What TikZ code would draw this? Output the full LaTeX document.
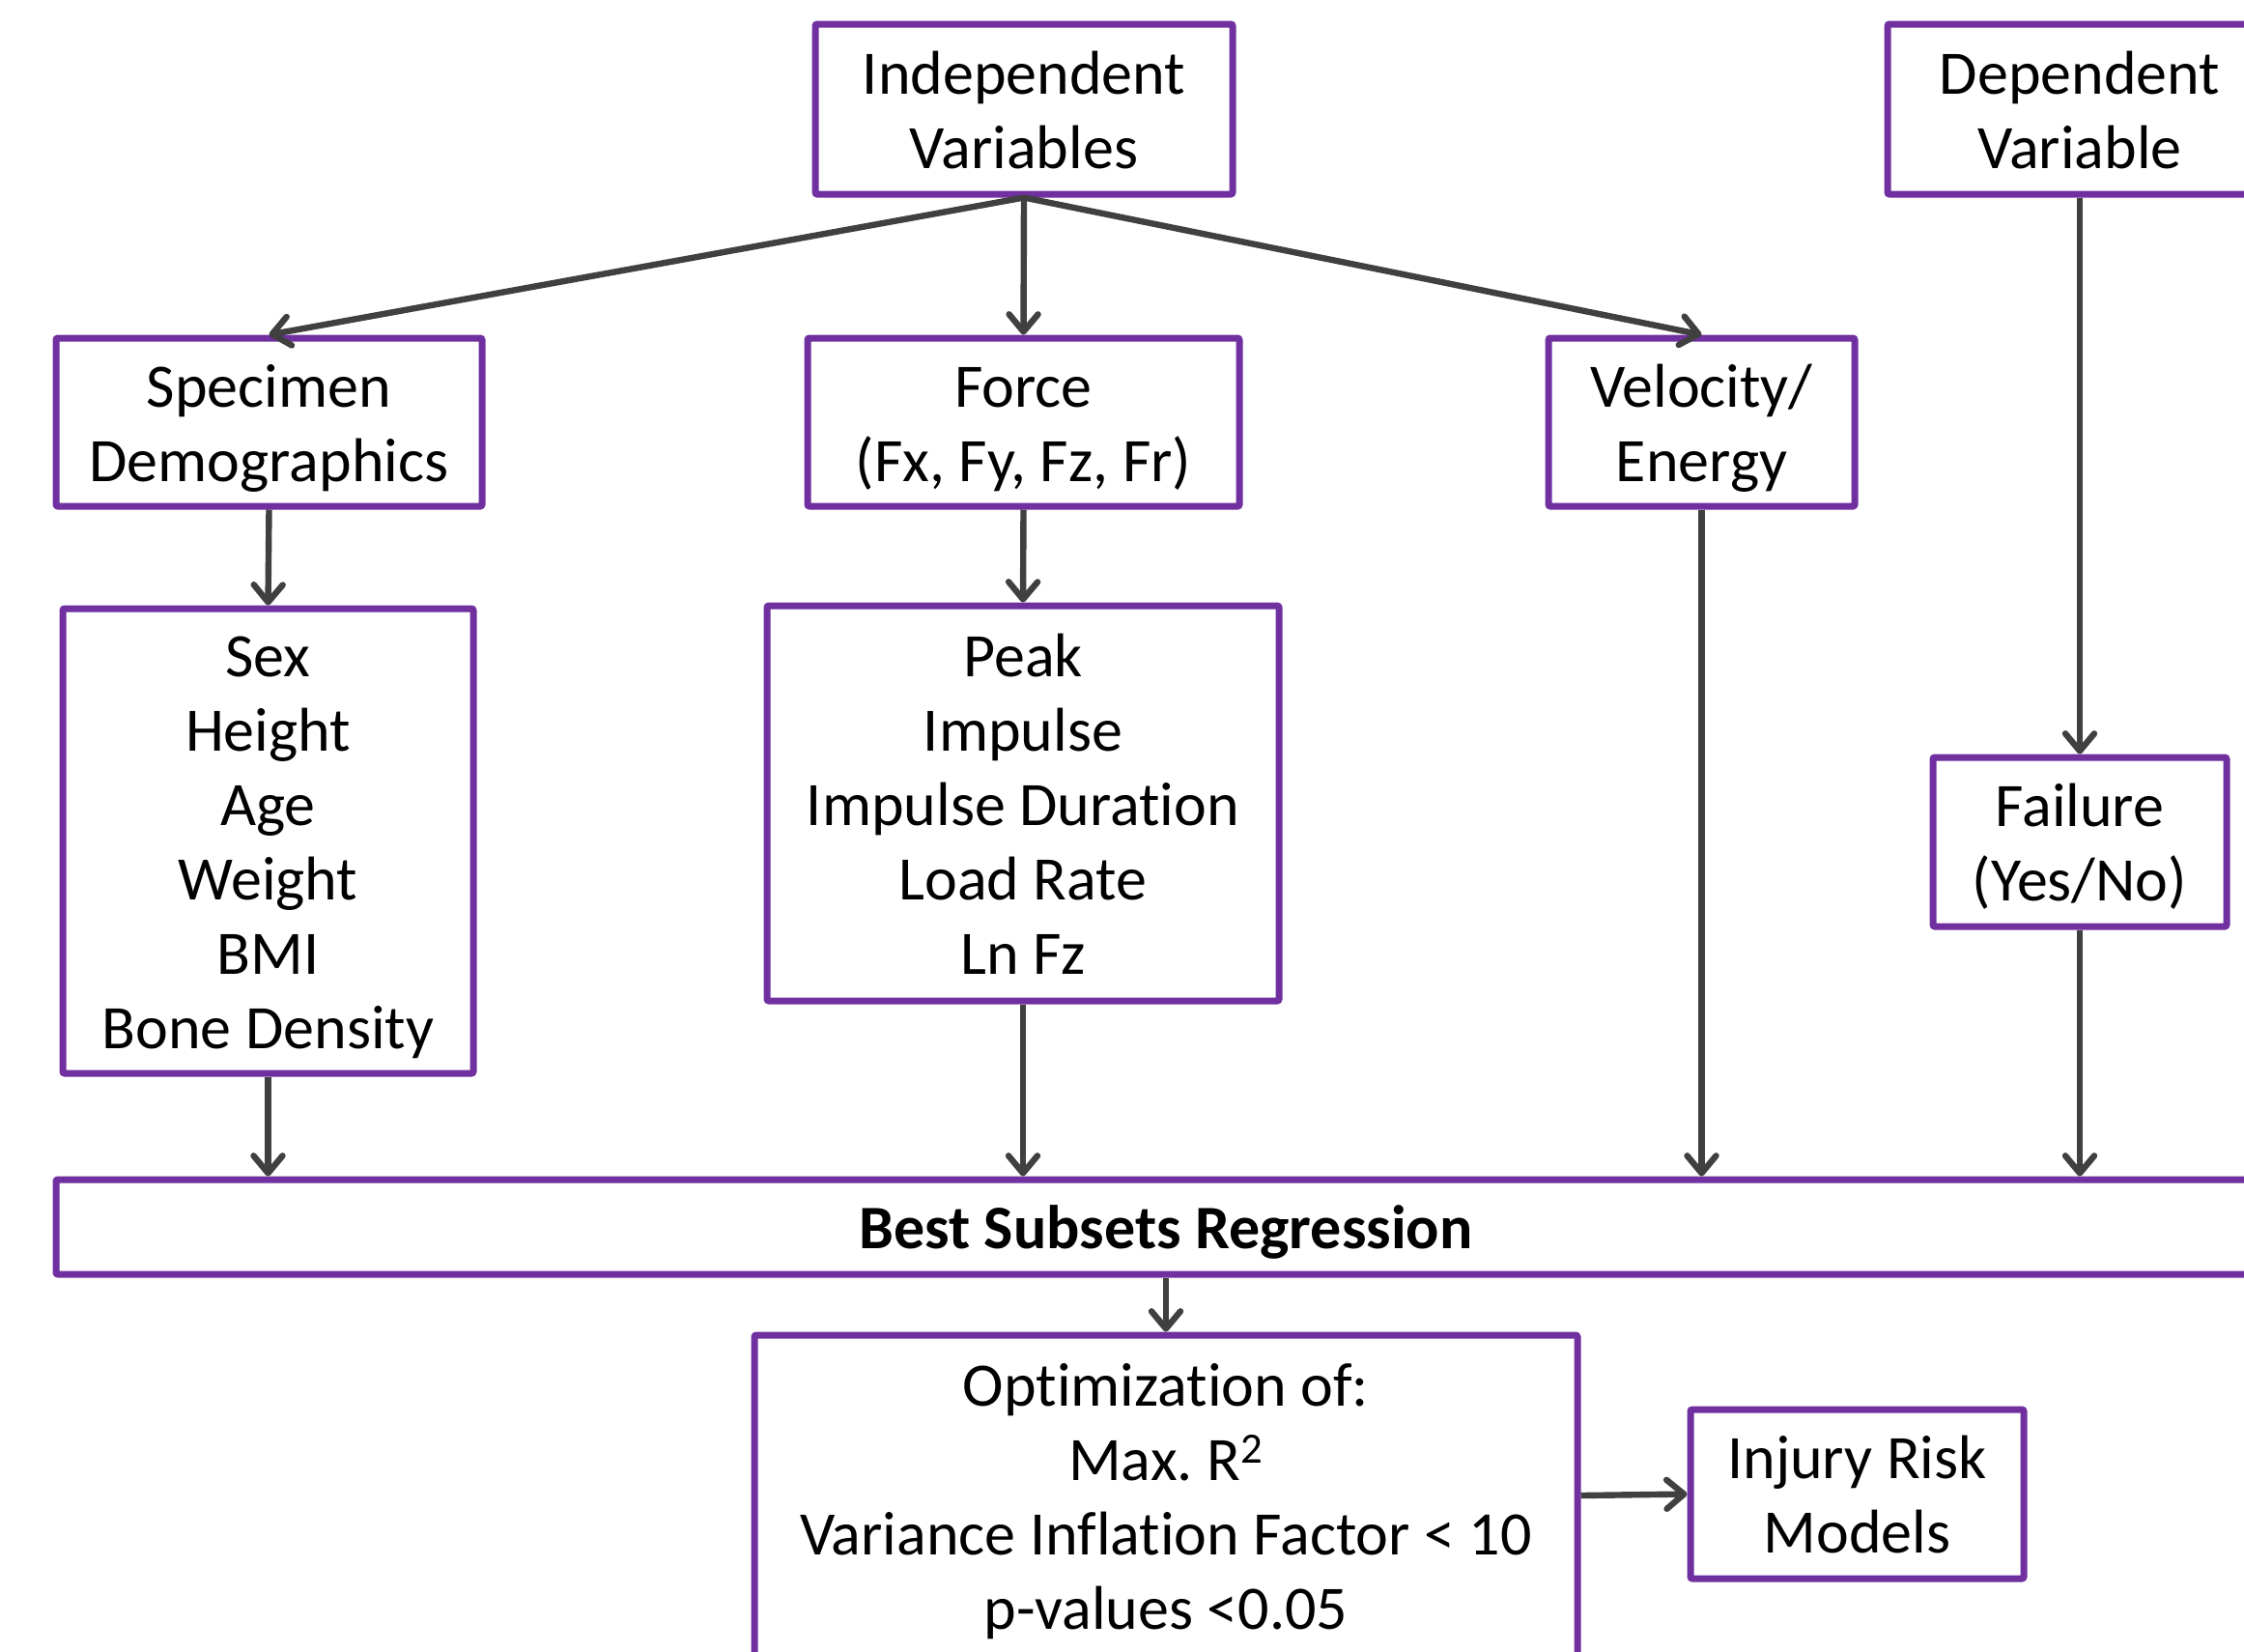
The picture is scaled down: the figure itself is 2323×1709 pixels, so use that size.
\documentclass[tikz,border=0pt]{standalone}
\usepackage{fontspec}
\setmainfont{Carlito}[Ligatures=NoCommon]
\usetikzlibrary{arrows.meta}
\definecolor{boxpurple}{HTML}{7030A0}
\definecolor{arrowgray}{HTML}{404040}
\newcommand\bxtext[1]{\raisebox{-3.6pt}[\height][\depth]{\begin{tabular}{@{}c@{}}#1\end{tabular}}}
\frenchspacing
\begin{document}
\begin{tikzpicture}[x=0.5pt,y=-0.5pt,
  box/.style={draw=boxpurple,line width=3.5pt,rounded corners=1pt,fill=white,inner sep=0pt,
    font=\fontsize{32}{38.5}\selectfont},
  conn/.style={draw=arrowgray,line width=3.2pt,-{Straight Barb[length=9pt,width=15pt,line cap=round,line join=round]}}]
\useasboundingbox (0,0) rectangle (2323,1709);
\clip (0,0) rectangle (2323,1709);
\node[box,minimum width=216pt,minimum height=88pt] (ind) at (1060,113) {\bxtext{Independent\\Variables}};
\node[box,minimum width=199pt,minimum height=88pt] (dep) at (2153,113) {\bxtext{Dependent\\Variable}};
\node[box,minimum width=220.5pt,minimum height=87pt] (spec) at (278.5,437) {\bxtext{Specimen\\Demographics}};
\node[box,minimum width=223.5pt,minimum height=87pt] (force) at (1059.5,437) {\bxtext{Force\\(Fx, Fy, Fz, Fr)}};
\node[box,minimum width=158.5pt,minimum height=87pt] (vel) at (1761.5,437) {\bxtext{Velocity/\\Energy}};
\node[box,minimum width=212.5pt,minimum height=240.5pt] (sex) at (277.5,870.5) {\bxtext{Sex\\Height\\Age\\Weight\\BMI\\Bone Density}};
\node[box,minimum width=265pt,minimum height=204.5pt] (peak) at (1059,831.5) {\bxtext{Peak\\Impulse\\Impulse Duration\\Load Rate\\Ln Fz}};
\node[box,minimum width=152pt,minimum height=87.5pt] (fail) at (2153,871.5) {\bxtext{Failure\\(Yes/No)}};
\node[box,minimum width=1149pt,minimum height=49pt,font=\fontsize{32}{38.5}\selectfont\bfseries] (best) at (1207,1270) {\bxtext{Best Subsets Regression}};
\node[box,minimum width=426pt,minimum height=166pt] (opt) at (1207,1548) {\bxtext{Optimization of:\\Max. R\textsuperscript{2}\\Variance Inflation Factor < 10\\p-values <0.05}};
\node[box,minimum width=172.5pt,minimum height=87.5pt] (inj) at (1922.5,1546.5) {\bxtext{Injury Risk\\Models}};
\draw[conn] (ind.south) -- (spec.north);
\draw[conn] (ind.south) -- (force.north);
\draw[conn] (ind.south) -- (vel.north);
\draw[conn] (dep.south) -- (fail.north);
\draw[conn] (spec.south) -- (sex.north);
\draw[conn] (force.south) -- (peak.north);
\draw[conn] (sex.south) -- (sex.south |- best.north);
\draw[conn] (peak.south) -- (peak.south |- best.north);
\draw[conn] (vel.south) -- (vel.south |- best.north);
\draw[conn] (fail.south) -- (fail.south |- best.north);
\draw[conn] (best.south) -- (opt.north);
\draw[conn] (opt.east) -- (inj.west);
\end{tikzpicture}
\end{document}
